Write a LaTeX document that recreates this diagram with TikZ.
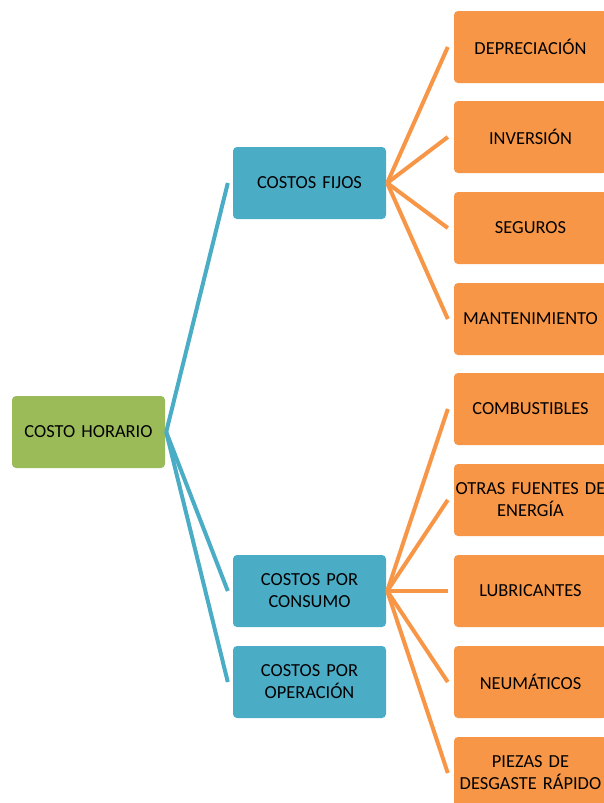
\documentclass[tikz,border=0pt]{standalone}
\usepackage{fontspec}
\setmainfont{Carlito}
\definecolor{cgreen}{HTML}{9BBB59}
\definecolor{cblue}{HTML}{4BACC6}
\definecolor{corange}{HTML}{F79646}
\begin{document}
\begin{tikzpicture}[x=1pt,y=-1pt,
  box/.style={rounded corners=4pt, minimum width=153pt, minimum height=72pt,
    inner sep=0pt, align=center, text width=153pt,
    font=\fontsize{18.4}{22}\selectfont, text=black},
  rootbox/.style={box, fill=cgreen},
  midbox/.style={box, fill=cblue},
  leafbox/.style={box, fill=corange},
  blink/.style={draw=cblue, line width=4pt},
  olink/.style={draw=corange, line width=4pt}]
\useasboundingbox (0,0) rectangle (603,803);
\node[rootbox] (root) at (88.5,432) {COSTO HORARIO};
\node[midbox] (fijos) at (309.5,183) {COSTOS FIJOS};
\node[midbox] (consumo) at (309.5,591) {COSTOS POR\\CONSUMO};
\node[midbox] (operacion) at (309.5,682) {COSTOS POR\\OPERACIÓN};
\node[leafbox] (dep) at (530.5,47) {DEPRECIACIÓN};
\node[leafbox] (inv) at (530.5,137) {INVERSIÓN};
\node[leafbox] (seg) at (530.5,228) {SEGUROS};
\node[leafbox] (man) at (530.5,319) {MANTENIMIENTO};
\node[leafbox] (com) at (530.5,409) {COMBUSTIBLES};
\node[leafbox] (otr) at (530.5,500) {OTRAS FUENTES DE\\ENERGÍA};
\node[leafbox] (lub) at (530.5,591) {LUBRICANTES};
\node[leafbox] (neu) at (530.5,682) {NEUMÁTICOS};
\node[leafbox] (pie) at (530.5,773) {PIEZAS DE\\DESGASTE RÁPIDO};
\foreach \c in {fijos,consumo,operacion}
  \draw[blink] ([xshift=1pt]root.east) -- ([xshift=-5pt]\c.west);
\foreach \c in {dep,inv,seg,man}
  \draw[olink] ([xshift=1pt]fijos.east) -- ([xshift=-6pt]\c.west);
\foreach \c in {com,otr,lub,neu,pie}
  \draw[olink] ([xshift=1pt]consumo.east) -- ([xshift=-6pt]\c.west);
\end{tikzpicture}
\end{document}
